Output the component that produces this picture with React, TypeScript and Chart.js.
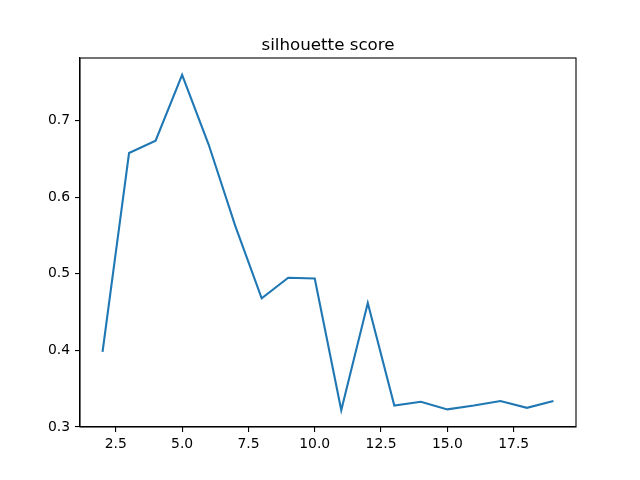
import React, { useRef, useEffect } from "react";
import Chart from "chart.js/auto";

const clusters = [2, 3, 4, 5, 6, 7, 8, 9, 10, 11, 12, 13, 14, 15, 16, 17, 18, 19];
const scores = [0.398, 0.658, 0.674, 0.76, 0.669, 0.563, 0.468, 0.495, 0.494, 0.322, 0.462, 0.328, 0.333, 0.323, 0.328, 0.334, 0.325, 0.334];
const xTicks = [2.5, 5.0, 7.5, 10.0, 12.5, 15.0, 17.5];
const yTicks = [0.3, 0.4, 0.5, 0.6, 0.7];
const title = "silhouette score";

const FONT = "'DejaVu Sans', sans-serif";

const framePlugin = {
  id: "frame",
  afterDraw(chart: any) {
    const { ctx, chartArea } = chart;
    ctx.save();
    ctx.strokeStyle = "#000";
    ctx.lineWidth = 1.1;
    ctx.strokeRect(chartArea.left, chartArea.top, chartArea.right - chartArea.left, chartArea.bottom - chartArea.top);
    ctx.fillStyle = "#000";
    ctx.font = "16.7px " + FONT;
    ctx.textAlign = "center";
    ctx.textBaseline = "alphabetic";
    ctx.fillText(title, (chartArea.left + chartArea.right) / 2, chartArea.top - 8);
    ctx.restore();
  },
};

const App: React.FC = () => {
  const chartRef = useRef<HTMLCanvasElement>(null);

  useEffect(() => {
    document.body.style.margin = "0";
    if (!chartRef.current) return;
    const ctx = chartRef.current.getContext("2d");
    if (!ctx) return;

    const chart = new Chart(ctx, {
      type: "line",
      data: {
        datasets: [
          {
            data: clusters.map((c, i) => ({ x: c, y: scores[i] })),
            borderColor: "#1f77b4",
            borderWidth: 2.1,
            pointRadius: 0,
            tension: 0,
            fill: false,
          },
        ],
      },
      options: {
        animation: false,
        responsive: false,
        layout: { padding: { left: 0, right: 64, top: 58, bottom: 0 } },
        plugins: {
          legend: { display: false },
          title: { display: false },
          tooltip: { enabled: false },
        },
        scales: {
          x: {
            type: "linear",
            min: 1.15,
            max: 19.85,
            afterBuildTicks: (scale: any) => {
              scale.ticks = xTicks.map((v) => ({ value: v }));
            },
            afterFit: (scale: any) => {
              scale.height = 53;
            },
            grid: { drawOnChartArea: false, drawTicks: true, tickLength: 5, color: "#000", lineWidth: 1.1 },
            border: { display: true, color: "#000", width: 1.1 },
            ticks: {
              color: "#000",
              padding: 4,
              maxRotation: 0,
              font: { family: FONT, size: 13.9 },
              callback: (v: any) => Number(v).toFixed(1),
            },
          },
          y: {
            type: "linear",
            min: 0.3,
            max: 0.782,
            afterBuildTicks: (scale: any) => {
              scale.ticks = yTicks.map((v) => ({ value: v }));
            },
            afterFit: (scale: any) => {
              scale.width = 80;
            },
            grid: { drawOnChartArea: false, drawTicks: true, tickLength: 5, color: "#000", lineWidth: 1.1 },
            border: { display: true, color: "#000", width: 1.1 },
            ticks: {
              color: "#000",
              padding: 5,
              font: { family: FONT, size: 13.9 },
              callback: (v: any) => Number(v).toFixed(1),
            },
          },
        },
      },
      plugins: [framePlugin],
    });

    return () => {
      chart.destroy();
    };
  }, []);

  return (
    <div style={{ width: 640, height: 480, background: "#fff" }}>
      <canvas ref={chartRef} width={640} height={480} />
    </div>
  );
};

export default App;
